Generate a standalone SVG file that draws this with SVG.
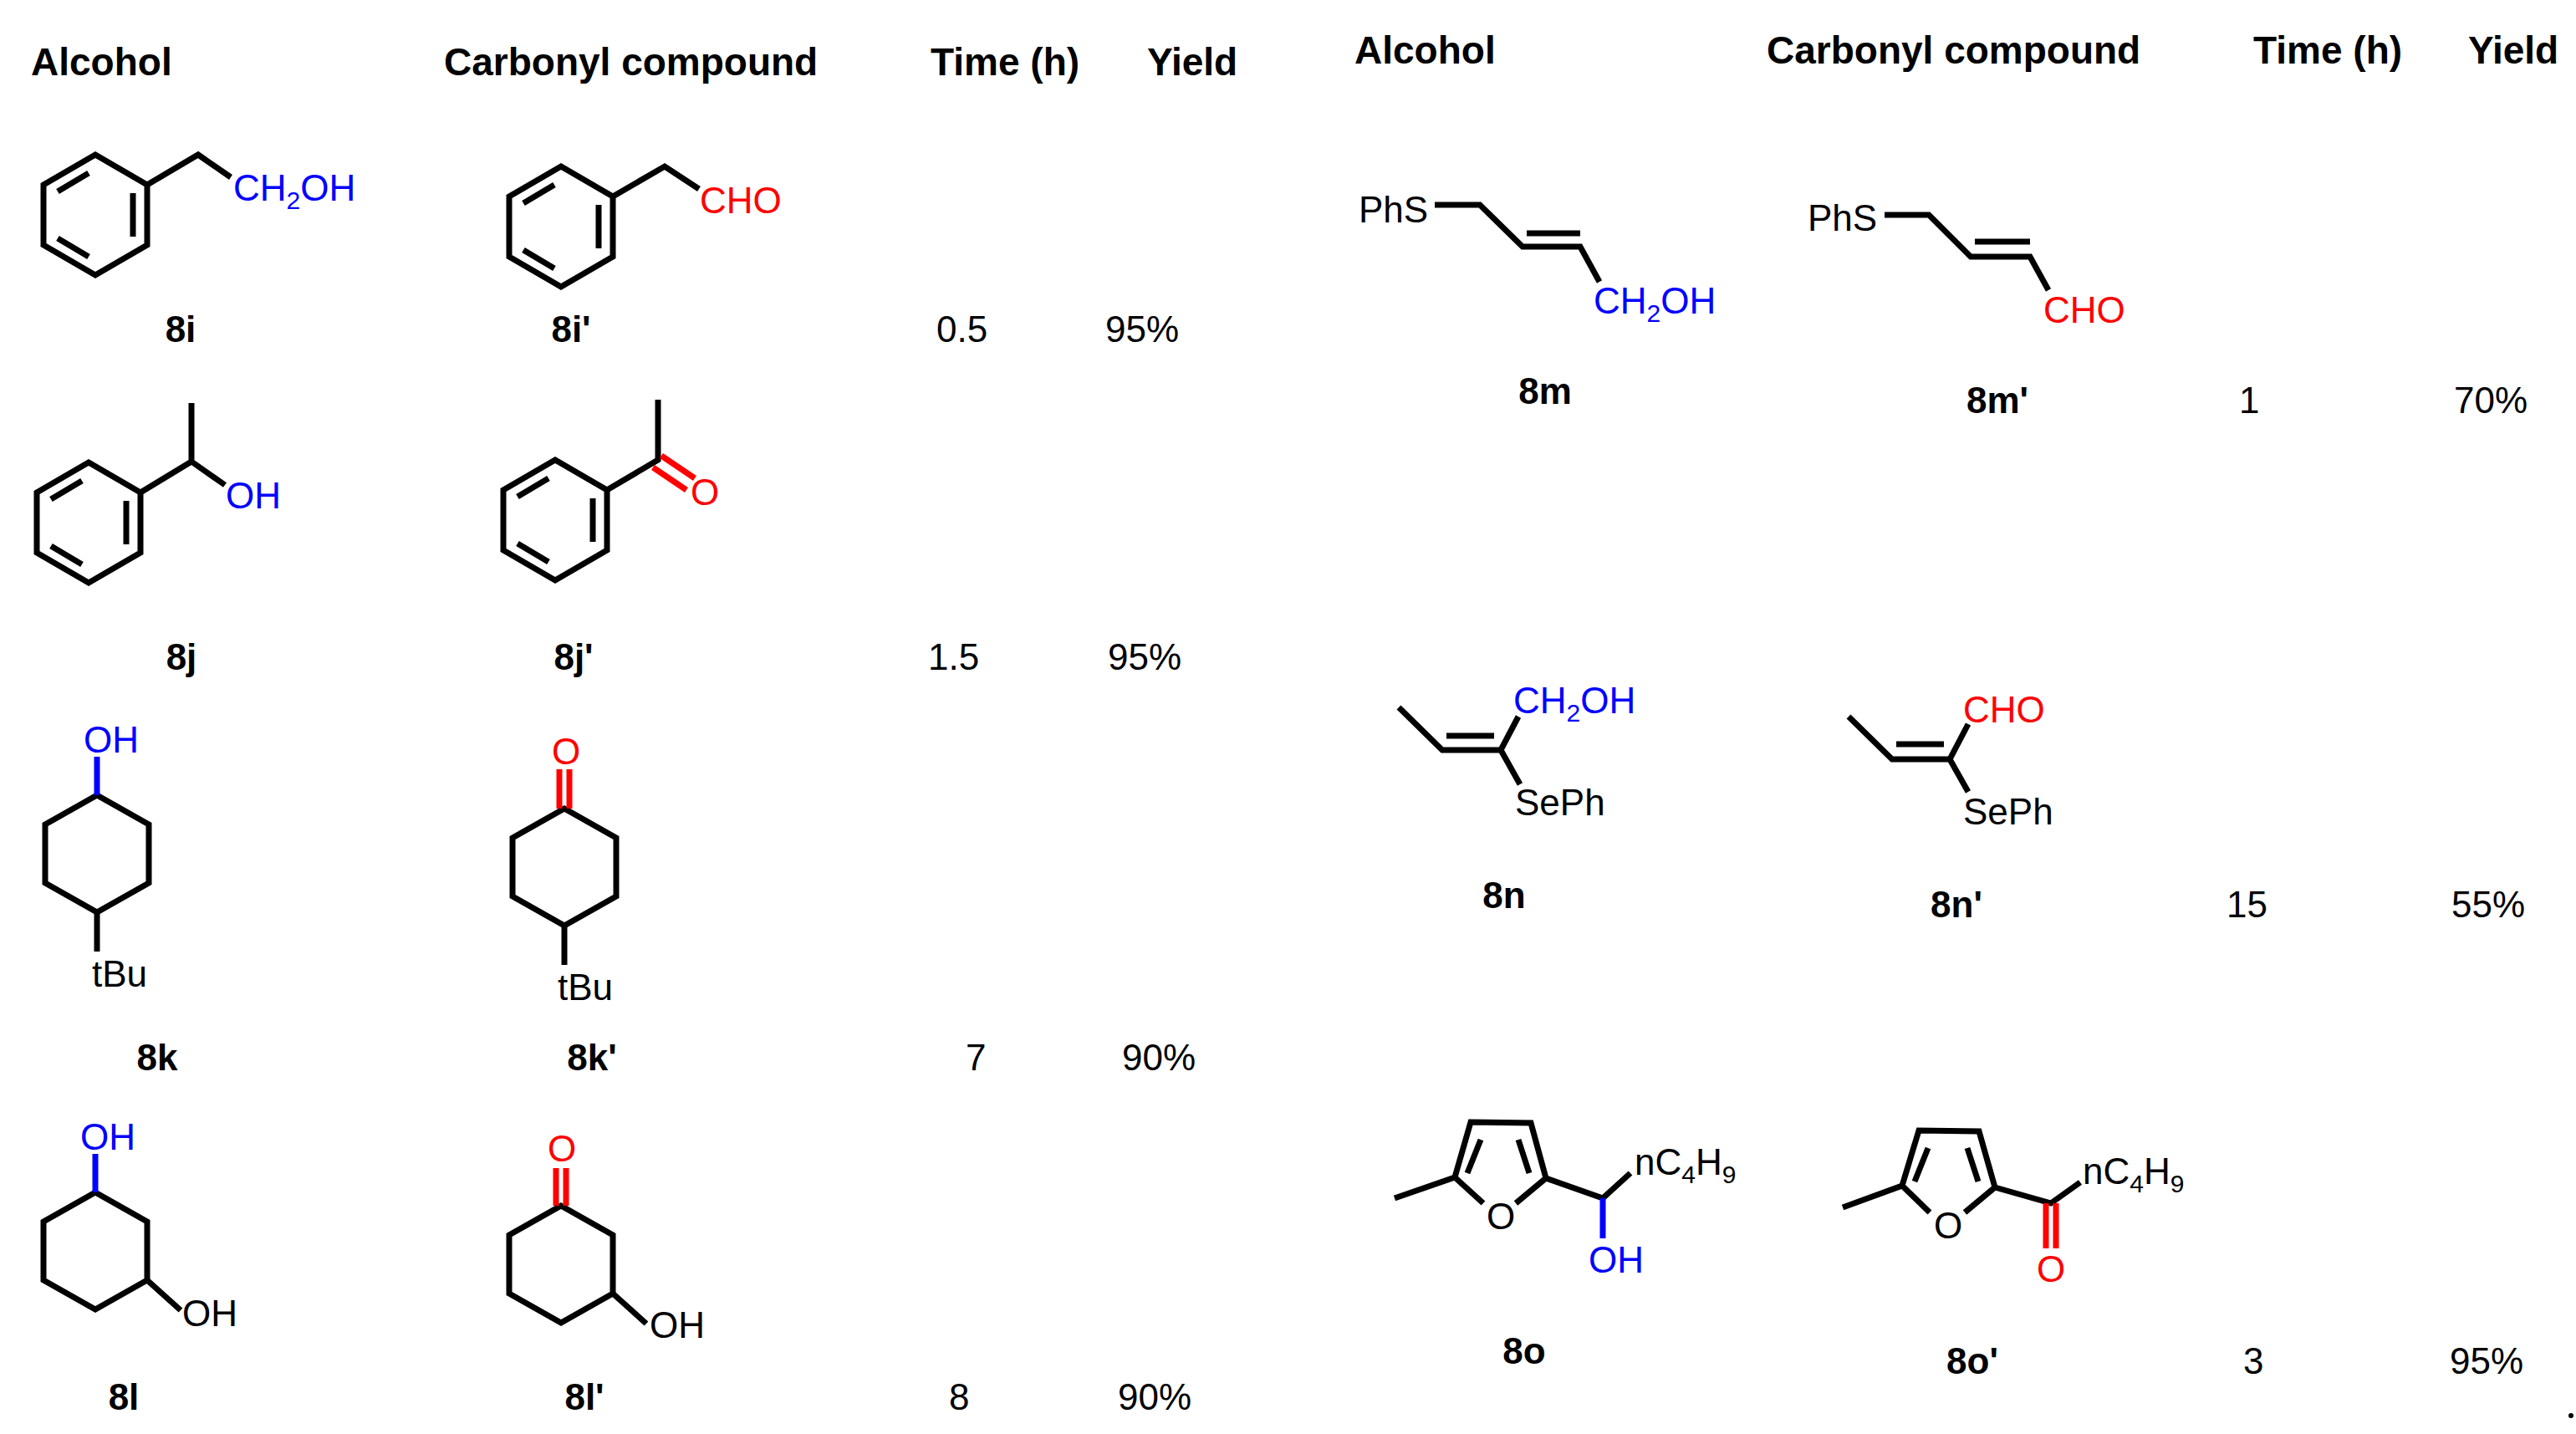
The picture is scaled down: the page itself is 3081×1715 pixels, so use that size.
<svg xmlns="http://www.w3.org/2000/svg" width="3081" height="1715" viewBox="0 0 3081 1715">
<style>
text{font-family:"Liberation Sans",Arial,sans-serif}
.h{font-size:46px;font-weight:bold}
.lb{font-size:44px;font-weight:bold;text-anchor:middle}
.v{font-size:44px}
.a{font-size:44px}
.b{fill:blue}.r{fill:red}
.k{stroke:#000;stroke-width:7;fill:none;stroke-linejoin:miter;stroke-linecap:butt}
.bb{stroke:blue;stroke-width:7;fill:none}
.rb{stroke:red;stroke-width:7;fill:none}
.s{font-size:30px}
</style>
<defs>
<g id="benz">
<polygon class="k" points="0,-72 62,-36 62,36 0,72 -62,36 -62,-36"/>
<path class="k" d="M-45,-28 L-8,-50 M45,-26 L45,26 M-45,28 L-8,50"/>
</g>
<polygon id="hex" class="k" points="0,-70 62,-35 62,35 0,70 -62,35 -62,-35"/>
</defs>
<g id="headers">
<text class="h" x="37" y="90">Alcohol</text>
<text class="h" x="531" y="90">Carbonyl compound</text>
<text class="h" x="1113" y="90">Time (h)</text>
<text class="h" x="1372" y="90">Yield</text>
<text class="h" x="1620" y="76">Alcohol</text>
<text class="h" x="2113" y="76">Carbonyl compound</text>
<text class="h" x="2695" y="76">Time (h)</text>
<text class="h" x="2952" y="76">Yield</text>
</g>
<g id="n8i">
<use href="#benz" x="114" y="257"/>
<path class="k" d="M176,221 L237,185 L276,212"/>
<text class="a b" x="279" y="240">CH<tspan class="s" dy="10">2</tspan><tspan dy="-10">OH</tspan></text>
<text class="lb" x="216" y="409">8i</text>
</g>
<g id="n8ip">
<use href="#benz" x="671" y="271"/>
<path class="k" d="M733,235 L795,199 L836,226"/>
<text class="a r" x="837" y="255">CHO</text>
<text class="lb" x="683" y="409">8i'</text>
</g>
<g id="n8j">
<use href="#benz" x="106" y="625"/>
<path class="k" d="M168,589 L229,552 L229,482 M229,552 L269,580"/>
<text class="a b" x="270" y="608">OH</text>
<text class="lb" x="217" y="801">8j</text>
</g>
<g id="n8jp">
<use href="#benz" x="664" y="622"/>
<path class="k" d="M726,586 L787,550 L787,478"/>
<path class="rb" d="M781,559 L821,586 M791,545 L831,572"/>
<text class="a r" x="826" y="604">O</text>
<text class="lb" x="686" y="801">8j'</text>
</g>
<g id="n8k">
<use href="#hex" x="116" y="1021"/>
<path class="bb" d="M116,951 L116,905"/>
<text class="a b" x="100" y="900">OH</text>
<path class="k" d="M116,1091 L116,1138"/>
<text class="a" x="110" y="1180">tBu</text>
<text class="lb" x="188" y="1280">8k</text>
</g>
<g id="n8kp">
<use href="#hex" x="675" y="1037"/>
<path class="rb" d="M669,967 L669,920 M681,967 L681,920"/>
<text class="a r" x="660" y="914">O</text>
<path class="k" d="M675,1107 L675,1154"/>
<text class="a" x="667" y="1196">tBu</text>
<text class="lb" x="708" y="1280">8k'</text>
</g>
<g id="n8l">
<use href="#hex" x="114" y="1496"/>
<path class="bb" d="M114,1426 L114,1380"/>
<text class="a b" x="96" y="1375">OH</text>
<path class="k" d="M176,1531 L216,1567"/>
<text class="a" x="218" y="1586">OH</text>
<text class="lb" x="148" y="1686">8l</text>
</g>
<g id="n8lp">
<use href="#hex" x="671" y="1512"/>
<path class="rb" d="M665,1442 L665,1397 M677,1442 L677,1397"/>
<text class="a r" x="655" y="1389">O</text>
<path class="k" d="M733,1547 L773,1583"/>
<text class="a" x="777" y="1600">OH</text>
<text class="lb" x="699" y="1686">8l'</text>
</g>
<g id="times-left">
<text class="v" x="1120" y="409">0.5</text><text class="v" x="1322" y="409">95%</text>
<text class="v" x="1110" y="801">1.5</text><text class="v" x="1325" y="801">95%</text>
<text class="v" x="1155" y="1280">7</text><text class="v" x="1342" y="1280">90%</text>
<text class="v" x="1135" y="1686">8</text><text class="v" x="1337" y="1686">90%</text>
</g>
<g id="n8m">
<text class="a" x="1625" y="266">PhS</text>
<path class="k" d="M1716,245 L1770,245 L1821,295 L1890,295 L1913,337 M1826,279 L1890,279"/>
<text class="a b" x="1906" y="375">CH<tspan class="s" dy="10">2</tspan><tspan dy="-10">OH</tspan></text>
<text class="lb" x="1848" y="483">8m</text>
</g>
<g id="n8mp">
<text class="a" x="2162" y="276">PhS</text>
<path class="k" d="M2254,257 L2307,257 L2357,307 L2428,307 L2450,347 M2362,289 L2428,289"/>
<text class="a r" x="2444" y="386">CHO</text>
<text class="lb" x="2389" y="494">8m'</text>
</g>
<g id="n8n">
<path class="k" d="M1673,846 L1725,897 L1795,897 L1816,857 M1795,897 L1818,938 M1730,880 L1787,880"/>
<text class="a b" x="1810" y="853">CH<tspan class="s" dy="10">2</tspan><tspan dy="-10">OH</tspan></text>
<text class="a" x="1812" y="975">SePh</text>
<text class="lb" x="1799" y="1086">8n</text>
</g>
<g id="n8np">
<path class="k" d="M2211,857 L2263,908 L2332,908 L2354,866 M2332,908 L2354,947 M2268,890 L2325,890"/>
<text class="a r" x="2348" y="864">CHO</text>
<text class="a" x="2348" y="986">SePh</text>
<text class="lb" x="2340" y="1097">8n'</text>
</g>
<g id="n8o">
<path class="k" d="M1668,1433 L1740,1408 L1759,1342 L1831,1343 L1849,1409 L1917,1433 L1950,1403 M1740,1408 L1774,1439 M1849,1409 L1813,1439 M1755,1403 L1771,1363 M1829,1403 L1816,1363"/>
<text class="a" x="1795" y="1470" text-anchor="middle">O</text>
<path class="bb" d="M1917,1433 L1917,1481"/>
<text class="a b" x="1900" y="1522">OH</text>
<text class="a" x="1955" y="1405">nC<tspan class="s" dy="10">4</tspan><tspan dy="-10">H</tspan><tspan class="s" dy="10">9</tspan></text>
<text class="lb" x="1823" y="1631">8o</text>
</g>
<g id="n8op">
<path class="k" d="M2204,1444 L2275,1418 L2295,1352 L2367,1353 L2386,1420 L2453,1439 L2488,1414 M2275,1418 L2308,1450 M2386,1420 L2350,1450 M2290,1413 L2306,1373 M2366,1413 L2353,1373"/>
<text class="a" x="2330" y="1481" text-anchor="middle">O</text>
<path class="rb" d="M2447,1439 L2447,1493 M2459,1439 L2459,1493"/>
<text class="a r" x="2453" y="1533" text-anchor="middle">O</text>
<text class="a" x="2491" y="1416">nC<tspan class="s" dy="10">4</tspan><tspan dy="-10">H</tspan><tspan class="s" dy="10">9</tspan></text>
<text class="lb" x="2359" y="1643">8o'</text>
</g>
<g id="times-right">
<text class="v" x="2678" y="494">1</text><text class="v" x="2935" y="494">70%</text>
<text class="v" x="2663" y="1097">15</text><text class="v" x="2932" y="1097">55%</text>
<text class="v" x="2683" y="1643">3</text><text class="v" x="2930" y="1643">95%</text>
<circle cx="3075" cy="1693" r="3"/>
</g>
</svg>
